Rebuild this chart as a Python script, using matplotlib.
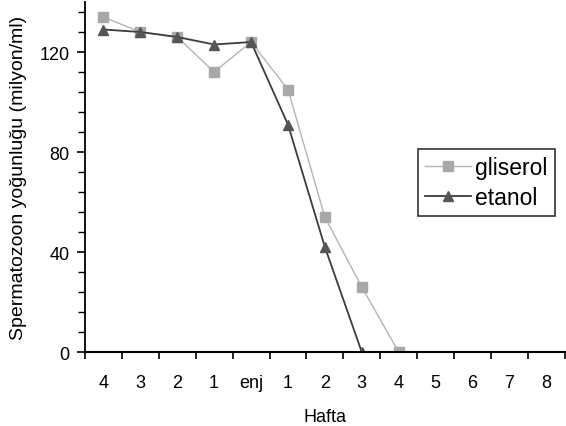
import numpy as np
import matplotlib.pyplot as plt
from matplotlib.ticker import MultipleLocator

plt.rcParams['font.family'] = ['Liberation Sans', 'DejaVu Sans']

# x categories (weeks before / after injection)
hafta = ['4', '3', '2', '1', 'enj', '1', '2', '3', '4', '5', '6', '7', '8']

# sperm density (million/ml)
gliserol = [134, 128, 126, 112, 124, 105, 54, 26, 0]
etanol = [129, 128, 126, 123, 124, 91, 42, 0]

fig = plt.figure(figsize=(5.66, 4.27), dpi=100)
ax = fig.add_axes([0.150, 0.173, 0.848, 0.820])

xg = np.arange(len(gliserol))
xe = np.arange(len(etanol))

ax.plot(xg, gliserol, color='#b4b4b4', lw=1.0, marker='s', markersize=7.5,
        markerfacecolor='#a8a8a8', markeredgecolor='#a8a8a8', label='gliserol')
ax.plot(xe, etanol, color='#3c3c3c', lw=1.3, marker='^', markersize=7.5,
        markerfacecolor='#555555', markeredgecolor='#555555', label='etanol')

ax.set_xlim(-0.5, len(hafta) - 0.5)
ax.set_ylim(0, 140)

# ticks between categories, labels centered
ax.set_xticks(np.arange(len(hafta) + 1) - 0.5)
ax.set_xticklabels([])
ax.set_xticks(np.arange(len(hafta)), minor=True)
ax.set_xticklabels(hafta, minor=True)
ax.tick_params(axis='x', which='major', length=5, width=1.2, direction='out')
ax.tick_params(axis='x', which='minor', length=0, pad=16, labelsize=13)

ax.set_yticks([0, 40, 80, 120])
ax.yaxis.set_minor_locator(MultipleLocator(8))
ax.tick_params(axis='y', which='major', length=6, width=1.2, labelsize=13, pad=5)
ax.tick_params(axis='y', which='minor', length=5, width=1.0)

ax.spines['top'].set_visible(False)
ax.spines['right'].set_visible(False)
ax.spines['left'].set_linewidth(1.3)
ax.spines['bottom'].set_linewidth(1.5)

ax.set_xlabel('Hafta', fontsize=13, labelpad=12)
ax.set_ylabel('Spermatozoon yoğunluğu (milyon/ml)', fontsize=14, labelpad=9)

leg = ax.legend(loc='upper left', bbox_to_anchor=(0.694, 0.58), fontsize=16.5,
                frameon=True, fancybox=False, edgecolor='black',
                handlelength=2.0, handletextpad=0.2, borderpad=0.3,
                labelspacing=0.3, borderaxespad=0)
leg.get_frame().set_linewidth(1.2)

plt.savefig('out.png', dpi=100)
